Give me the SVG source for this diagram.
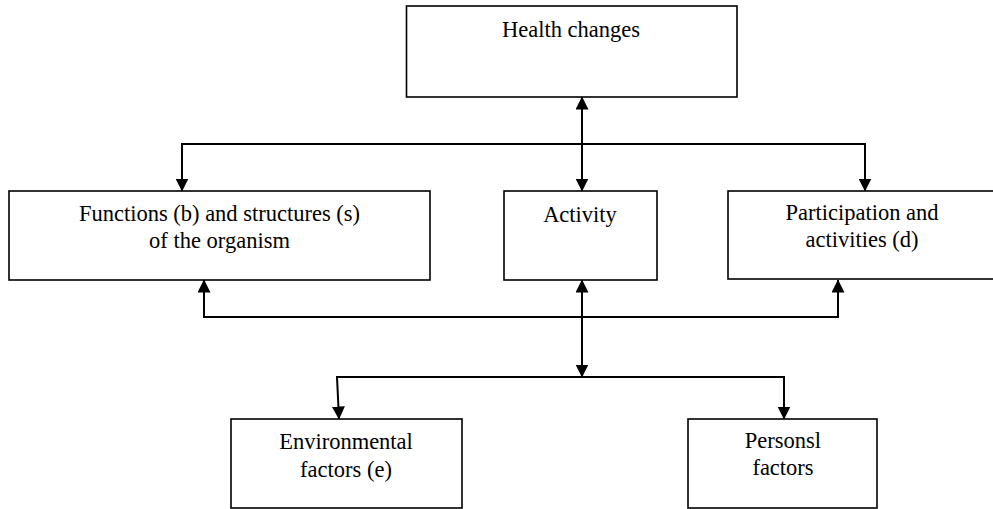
<svg xmlns="http://www.w3.org/2000/svg" width="993" height="509" viewBox="0 0 993 509">
<style>
.box{fill:#fff;stroke:#000;stroke-width:1.6}
.lbl{font-size:22.5px;fill:#000;text-anchor:middle}
.con{fill:none;stroke:#000;stroke-width:2;marker-start:url(#ah);marker-end:url(#ah)}
</style>
<defs>
<marker id="ah" markerUnits="userSpaceOnUse" markerWidth="13" markerHeight="13" viewBox="0 0 13 13" refX="12.5" refY="6.5" orient="auto-start-reverse">
<path d="M0,0 L13,6.5 L0,13 z" fill="#000"/>
</marker>
</defs>
<rect width="993" height="509" fill="#fff"/>
<g id="connectors">
<path class="con" d="M582,97 L582,191"/>
<path class="con" d="M182,191 V144 H865 V191"/>
<path class="con" d="M204,280 V317 H838 V280"/>
<path class="con" d="M582,280 V377"/>
<path class="con" d="M339,419 L337,377 H784 V419"/>
</g>
<g font-family="Liberation Serif, Times New Roman, DejaVu Serif, serif">
<g id="health">
<rect class="box" x="406.5" y="6" width="330.5" height="91"/>
<text class="lbl" x="571" y="37">Health changes</text>
</g>
<g id="functions">
<rect class="box" x="9" y="191" width="421" height="89"/>
<text class="lbl" x="219.5" y="220.5">Functions (b) and structures (s)</text>
<text class="lbl" x="219.5" y="247.5">of the organism</text>
</g>
<g id="activity">
<rect class="box" x="504" y="191" width="153" height="89"/>
<text class="lbl" x="580" y="221.5">Activity</text>
</g>
<g id="participation">
<rect class="box" x="728" y="191" width="268" height="88"/>
<text class="lbl" x="862" y="220">Participation and</text>
<text class="lbl" x="862" y="247">activities (d)</text>
</g>
<g id="environmental">
<rect class="box" x="231" y="419" width="231" height="89"/>
<text class="lbl" x="346" y="449">Environmental</text>
<text class="lbl" x="346" y="476.5">factors (e)</text>
</g>
<g id="personal">
<rect class="box" x="688" y="419" width="189" height="89"/>
<text class="lbl" x="783" y="448">Personsl</text>
<text class="lbl" x="783" y="475">factors</text>
</g>
</g>
</svg>
